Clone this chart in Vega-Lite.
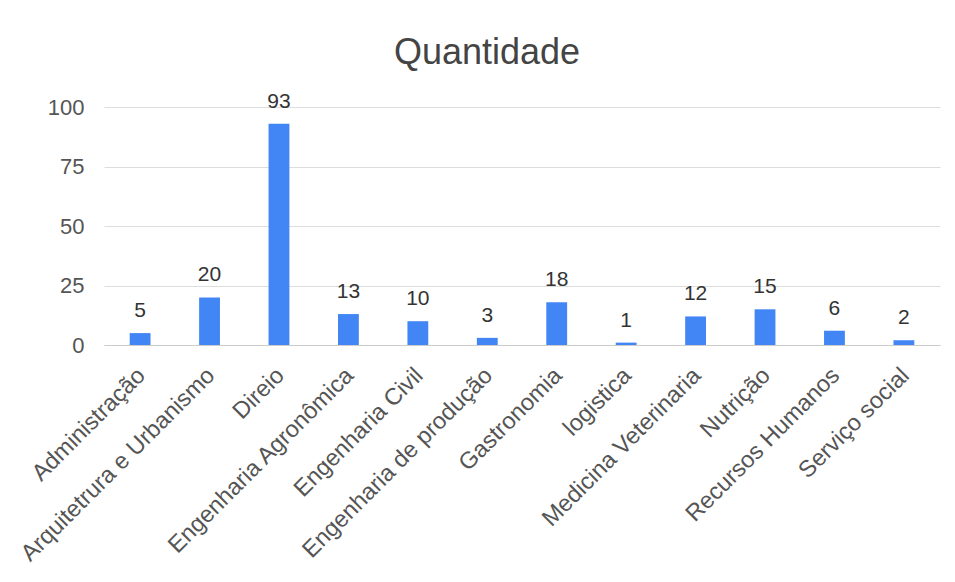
{
  "$schema": "https://vega.github.io/schema/vega-lite/v6.json",
  "width": 836,
  "height": 238,
  "autosize": {"type": "none"},
  "padding": {"left": 104, "top": 107, "right": 15, "bottom": 237},
  "background": "white",
  "title": {
    "text": "Quantidade",
    "fontSize": 36,
    "font": "Liberation Sans",
    "fontWeight": "normal",
    "color": "#444444",
    "anchor": "middle",
    "frame": "group",
    "dx": -35,
    "offset": 19
  },
  "config": {
    "view": {"stroke": null},
    "font": "Liberation Sans"
  },
  "data": {
    "values": [
      {"curso": "Administração", "quantidade": 5},
      {"curso": "Arquitetrura e Urbanismo", "quantidade": 20},
      {"curso": "Direio", "quantidade": 93},
      {"curso": "Engenharia Agronômica", "quantidade": 13},
      {"curso": "Engenharia Civil", "quantidade": 10},
      {"curso": "Engenharia de produção", "quantidade": 3},
      {"curso": "Gastronomia", "quantidade": 18},
      {"curso": "logistica", "quantidade": 1},
      {"curso": "Medicina Veterinaria", "quantidade": 12},
      {"curso": "Nutrição", "quantidade": 15},
      {"curso": "Recursos Humanos", "quantidade": 6},
      {"curso": "Serviço social", "quantidade": 2}
    ]
  },
  "encoding": {
    "x": {
      "field": "curso",
      "type": "nominal",
      "sort": null,
      "scale": {"paddingInner": 0.7, "paddingOuter": 0.37},
      "axis": {
        "title": null,
        "labelAngle": -45,
        "labelFontSize": 23.5,
        "labelColor": "#555555",
        "labelPadding": 18,
        "labelOffset": -7,
        "ticks": false,
        "domainColor": "#cccccc",
        "labelLimit": 400
      }
    },
    "y": {
      "field": "quantidade",
      "type": "quantitative",
      "scale": {"domain": [0, 100]},
      "axis": {
        "title": null,
        "values": [0, 25, 50, 75, 100],
        "labelFontSize": 22,
        "labelColor": "#555555",
        "labelPadding": 20,
        "ticks": false,
        "domain": false,
        "gridColor": "#dddddd"
      }
    }
  },
  "layer": [
    {"mark": {"type": "bar", "color": "#4285f4"}},
    {
      "mark": {"type": "text", "dy": -16, "fontSize": 21, "color": "#333333", "baseline": "alphabetic"},
      "encoding": {"text": {"field": "quantidade", "type": "quantitative"}}
    }
  ]
}
